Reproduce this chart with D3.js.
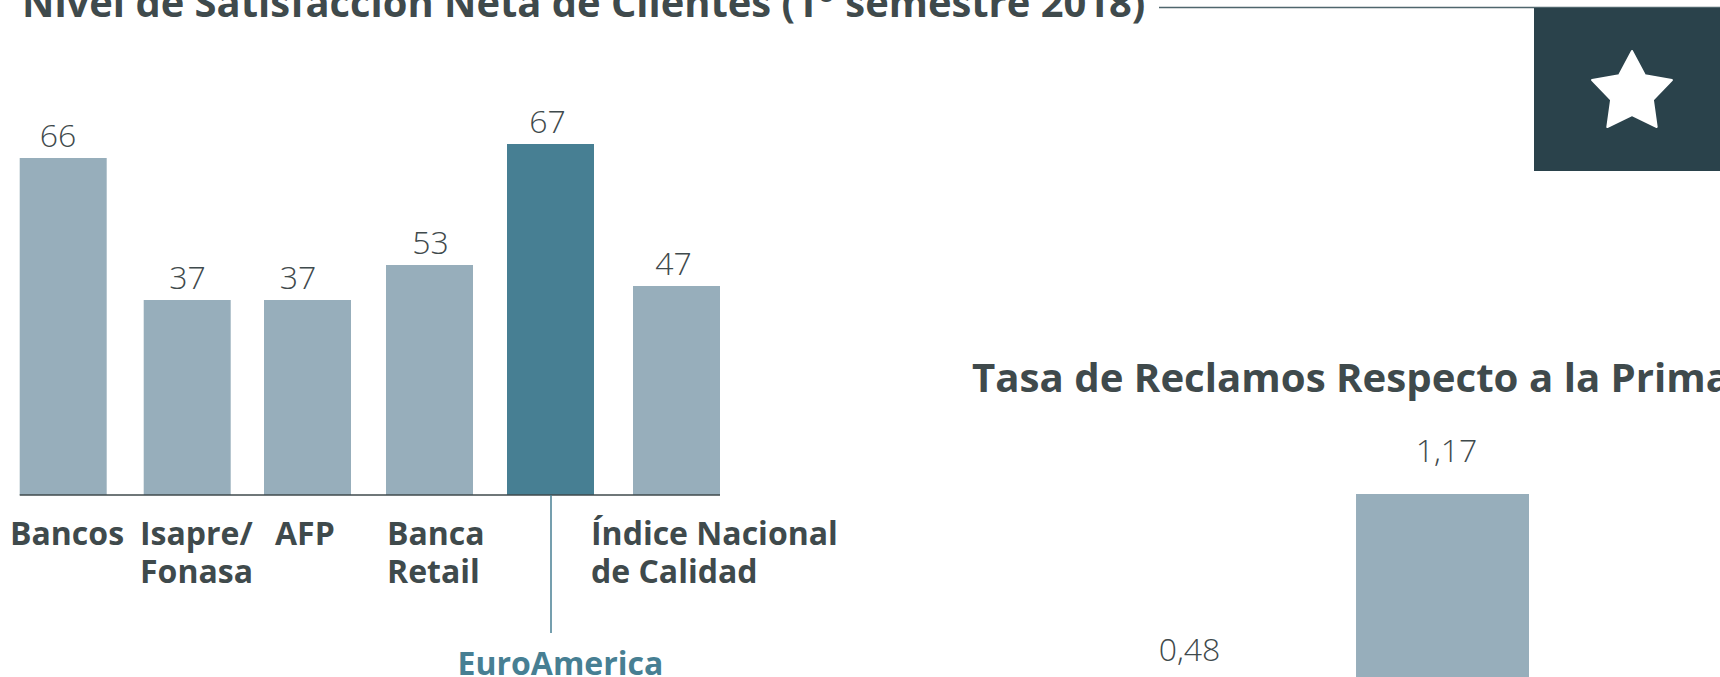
<!DOCTYPE html>
<html><head><meta charset="utf-8">
<script src="https://cdn.jsdelivr.net/npm/d3@7"></script>
<style>
html,body{margin:0;padding:0;background:#fff;overflow:hidden}
svg{display:block}
text{font-family:"Open Sans",sans-serif}
</style></head><body>
<script>
const categories = ["Bancos","Isapre/ Fonasa","AFP","Banca Retail","EuroAmerica","Índice Nacional de Calidad"];
const satisfaction = [66,37,37,53,67,47];
const categoryLines = [["Bancos"],["Isapre/","Fonasa"],["AFP"],["Banca","Retail"],[],["Índice Nacional","de Calidad"]];
const highlighted = "EuroAmerica";
const claimCategories = ["A","B"];
const claimRates = [0.48,1.17];
const titleLeft = "Nivel de Satisfacción Neta de Clientes (1° semestre 2018)";
const titleRight = "Tasa de Reclamos Respecto a la Prima";

const W=1720,H=677, TEXT="#3f4a4c", LIGHT="#97aebb", TEAL="#477f93", DARK="#2a424b";
const svg=d3.select("body").append("svg").attr("width",W).attr("height",H);

// titles
svg.append("text").attr("x",22).attr("y",17).attr("font-size",39.9).attr("font-weight",700).attr("fill",TEXT).text(titleLeft);
svg.append("line").attr("x1",1159).attr("x2",W).attr("y1",7.5).attr("y2",7.5).attr("stroke","#4f666d").attr("stroke-width",1.5);
svg.append("text").attr("x",972).attr("y",392).attr("font-size",40.2).attr("font-weight",700).attr("fill",TEXT).text(titleRight);

// badge
svg.append("rect").attr("x",1534).attr("y",8).attr("width",186).attr("height",163).attr("fill",DARK);
const starR=[42,22,42,22,42,22,42,22,42,22];
const star=d3.lineRadial().angle((d,i)=>i*Math.PI/5).radius(d=>d).curve(d3.curveLinearClosed);
svg.append("path").attr("transform","translate(1632,93)").attr("d",star(starR))
  .attr("fill","#fff").attr("stroke","#fff").attr("stroke-width",2).attr("stroke-linejoin","round");

// left chart: the reference's bars are not proportional, so the y scale is piecewise through the drawn heights
const xL=d3.scaleOrdinal().domain(categories).range([19.7,143.7,264,386,507,633]);
const labelX=d3.scaleOrdinal().domain(categories).range([58,187.6,298,430.6,547.5,673.6]);
const catX=d3.scaleOrdinal().domain(categories).range([10,140,275,387,457.5,591]);
const yL=d3.scaleLinear().domain([0,37,47,53,66,67]).range([495,300,286,265,158,144]);
const data=categories.map((c,i)=>({c,v:satisfaction[i],lines:categoryLines[i]}));
const gL=svg.append("g");
gL.selectAll("rect").data(data).join("rect")
  .attr("x",d=>xL(d.c)).attr("width",87).attr("y",d=>yL(d.v)).attr("height",d=>yL(0)-yL(d.v))
  .attr("fill",d=>d.c===highlighted?TEAL:LIGHT);
gL.selectAll("text.v").data(data).join("text").attr("class","v")
  .attr("x",d=>labelX(d.c)).attr("y",d=>yL(d.v)-11).attr("text-anchor","middle")
  .attr("font-size",32).attr("font-weight",350).attr("fill",TEXT).text(d=>d.v);
gL.append("line").attr("x1",19.7).attr("x2",720).attr("y1",yL(0)).attr("y2",yL(0)).attr("stroke",TEXT).attr("stroke-width",1.5);
gL.selectAll("text.c").data(data).join("text").attr("class","c")
  .attr("font-size",32).attr("font-weight",700).attr("fill",TEXT)
  .each(function(d){
    d3.select(this).selectAll("tspan").data(d.lines).join("tspan")
      .attr("x",catX(d.c)).attr("y",(l,i)=>545+i*38).text(l=>l);
  });
gL.append("line").attr("x1",551).attr("x2",551).attr("y1",yL(0)).attr("y2",633).attr("stroke",TEAL).attr("stroke-width",1.5);
gL.append("text").attr("x",catX(highlighted)).attr("y",675).attr("font-size",32).attr("font-weight",700).attr("fill",TEAL).text(highlighted);

// right chart (runs past the bottom of the picture)
const xR=d3.scaleBand().domain(claimCategories).range([1099,1529]).paddingInner(0.327);
const yR=d3.scaleLinear().domain([0,1.17]).range([832,494]);
const right=claimCategories.map((c,i)=>({c,v:claimRates[i]}));
const gR=svg.append("g");
gR.selectAll("rect").data(right).join("rect")
  .attr("x",d=>xR(d.c)).attr("width",xR.bandwidth()).attr("y",d=>yR(d.v)).attr("height",d=>yR(0)-yR(d.v)).attr("fill",LIGHT);
gR.selectAll("text").data(right).join("text")
  .attr("x",d=>xR(d.c)+xR.bandwidth()/2+4).attr("y",d=>yR(d.v)-32).attr("text-anchor","middle")
  .attr("font-size",32).attr("font-weight",350).attr("fill",TEXT).text(d=>d3.format(".2f")(d.v).replace(".",","));
</script>
</body></html>
